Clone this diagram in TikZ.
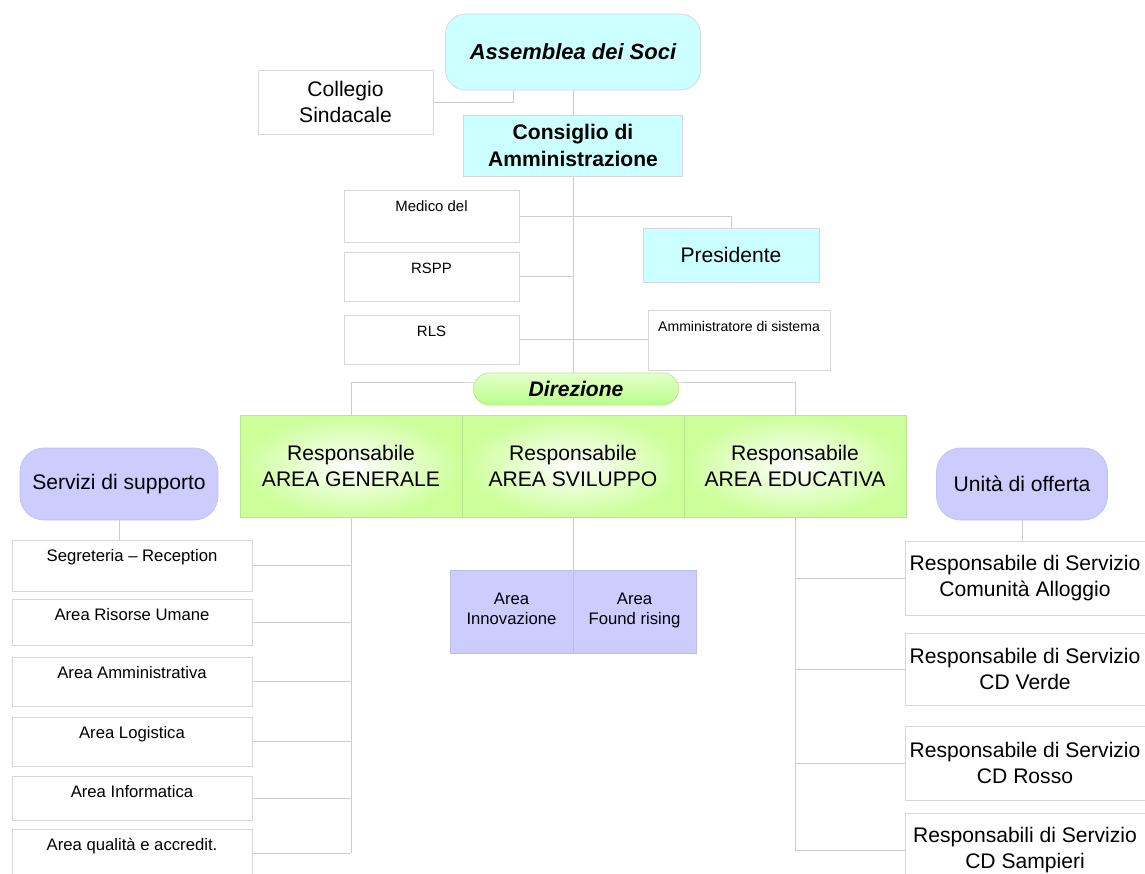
\documentclass[tikz,border=0pt]{standalone}
\usepackage{fontspec}
\setmainfont{Liberation Sans}
\usetikzlibrary{backgrounds}
\definecolor{cyanfill}{RGB}{204,255,255}
\definecolor{lilac}{RGB}{204,204,255}
\definecolor{leaf}{RGB}{204,255,153}
\definecolor{leafline}{RGB}{185,230,140}
\definecolor{boxgray}{RGB}{215,215,215}
\definecolor{linegray}{RGB}{205,205,205}

\begin{document}
\begin{tikzpicture}[x=0.02cm, y=-0.02cm,
    sz/.style 2 args={minimum width=#1*0.02cm, minimum height=#2*0.02cm},
    conn/.style={draw=linegray, line width=0.5pt},
    big/.style={font=\fontsize{12}{15}\selectfont, align=center},
    cyanbox/.style={big, draw=boxgray, fill=cyanfill, inner sep=0pt},
    whitebox/.style={big, draw=boxgray, fill=white, inner sep=0pt},
    lilacbox/.style={big, draw=lilac!85!gray, fill=lilac, inner sep=0pt},
    areabox/.style={big, draw=leafline, inner color=white, outer color=leaf, inner sep=0pt},
    lbox/.style={draw=boxgray, fill=white, align=center, anchor=north, inner xsep=0pt,
      inner ysep=5pt, text height=7pt, text depth=#1},
    smallfont/.style={font=\fontsize{8.5}{10}\selectfont},
    midfont/.style={font=\fontsize{9.5}{11}\selectfont}
  ]
  \useasboundingbox (0,0) rectangle (1145,874);
  \clip (0,0) rectangle (1145,874);

  \node[cyanbox, sz={255}{76}, rounded corners=0.4cm, font=\fontsize{12.5}{15}\bfseries\itshape] (ass) at (573,52) {Assemblea dei Soci};
  \node[whitebox, sz={175}{64}] (col) at (345.5,102) {Collegio\\Sindacale};
  \node[cyanbox, sz={219}{61}, font=\fontsize{12}{15}\bfseries] (cda) at (573,145.5) {Consiglio di\\Amministrazione};
  \node[lbox=12.6pt, smallfont, minimum width=175*0.02cm] (med) at (431.5,190) {Medico del};
  \node[lbox=10.9pt, smallfont, minimum width=175*0.02cm] (rspp) at (431.5,252) {RSPP};
  \node[lbox=10.9pt, smallfont, minimum width=175*0.02cm] (rls) at (431.5,315) {RLS};
  \node[cyanbox, sz={176}{54}] (pres) at (731,255) {Presidente};
  \node[lbox=17pt, font=\fontsize{8}{10}\selectfont, minimum width=182*0.02cm] (amm) at (739,310) {Amministratore di sistema};
  \node[sz={205}{32}, rounded corners=0.32cm, draw=leafline, top color=leaf!50, bottom color=leaf!90!green,
    inner sep=0pt, font=\fontsize{12}{15}\bfseries\itshape] (dir) at (576,389) {Direzione};

  \node[areabox, sz={222}{102}] (gen) at (351,466) {Responsabile\\AREA GENERALE};
  \node[areabox, sz={222}{102}] (svi) at (573,466) {Responsabile\\AREA SVILUPPO};
  \node[areabox, sz={222}{102}] (edu) at (795,466) {Responsabile\\AREA EDUCATIVA};

  \node[lilacbox, sz={198}{72}, rounded corners=0.48cm] (serv) at (119,484) {Servizi di supporto};
  \node[lilacbox, sz={171}{72}, rounded corners=0.48cm] (uni) at (1022,484) {Unità di offerta};

  \node[lbox=12pt, midfont, minimum width=240*0.02cm] (seg) at (132,540) {Segreteria -- Reception};
  \node[lbox=9.2pt, midfont, minimum width=240*0.02cm] (ris) at (132,599) {Area Risorse Umane};
  \node[lbox=10.9pt, midfont, minimum width=240*0.02cm] (amv) at (132,657) {Area Amministrativa};
  \node[lbox=10.9pt, midfont, minimum width=240*0.02cm] (log) at (132,717) {Area Logistica};
  \node[lbox=8pt, midfont, minimum width=240*0.02cm] (inf) at (132,776) {Area Informatica};
  \node[lbox=10.3pt, midfont, minimum width=240*0.02cm] (qual) at (132,829) {Area qualità e accredit.};

  \node[lilacbox, sz={123}{83}, midfont, draw=lilac!80!gray] (inn) at (511.5,611.5) {Area\\Innovazione\strut};
  \node[lilacbox, sz={123}{83}, midfont, draw=lilac!80!gray] (fund) at (634.5,611.5) {Area\\Found rising\strut};

  \node[whitebox, sz={240}{74}] (rs1) at (1025,578) {Responsabile di Servizio\\Comunità Alloggio};
  \node[whitebox, sz={240}{72}] (rs2) at (1025,669) {Responsabile di Servizio\\CD Verde};
  \node[whitebox, sz={240}{74}] (rs3) at (1025,763) {Responsabile di Servizio\\CD Rosso};
  \node[whitebox, sz={240}{74}] (rs4) at (1025,850) {Responsabili di Servizio\\CD Sampieri};

  \coordinate (colj) at (513,90);
  \coordinate (dirbar) at (573,382);

  \begin{pgfonlayer}{background}
    \draw[conn] (ass.south) -- (cda.north);
    \draw[conn] (cda.south) -- (dirbar);
    \draw[conn] (col.east) -| (colj);
    \draw[conn] (med.east) -| (pres.north);
    \draw[conn] (rspp.east) -- (rspp.east -| cda.south);
    \draw[conn] (rls.east) -- (rls.east -| amm.west);
    \draw[conn] (gen.north) |- (dirbar) -| (edu.north);
    \draw[conn] (serv.south) -- (serv.south |- seg.north);
    \draw[conn] (gen.south) -- (gen.south |- qual.east);
    \foreach \n in {seg,ris,amv,log,inf,qual}
      \draw[conn] (\n.east) -- (\n.east -| gen.south);
    \draw[conn] (svi.south) -- (svi.south |- inn.north);
    \draw[conn] (edu.south) -- (edu.south |- rs4.west);
    \foreach \n in {rs1,rs2,rs3,rs4}
      \draw[conn] (\n.west) -- (\n.west -| edu.south);
    \draw[conn] (uni.south) -- (uni.south |- rs1.north);
  \end{pgfonlayer}
\end{tikzpicture}
\end{document}
